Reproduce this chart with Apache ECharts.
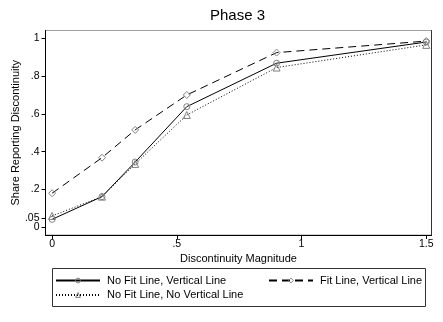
<!DOCTYPE html>
<html>
<head>
<meta charset="utf-8">
<script src="https://cdn.jsdelivr.net/npm/echarts@6/dist/echarts.min.js"></script>
<style>html,body{margin:0;padding:0;background:#fff}#c{width:443px;height:322px}</style>
</head>
<body>
<div id="c"></div>
<script>
var xVals = [0, 0.2, 0.333, 0.54, 0.9, 1.5];
var noFitVert = [0.042, 0.162, 0.345, 0.638, 0.868, 0.98];
var fitVert = [0.18, 0.368, 0.515, 0.70, 0.924, 0.985];
var noFitNoVert = [0.06, 0.162, 0.335, 0.594, 0.845, 0.965];
var xTicks = [0, 0.5, 1, 1.5];
var yTicks = [0, 0.2, 0.4, 0.6, 0.8, 1];
var yExtraTicks = [0.05];
var names = ['No Fit Line, Vertical Line', 'Fit Line, Vertical Line', 'No Fit Line, No Vertical Line'];

function fmt(v){ if (v === 0) return '0'; var s = String(+v.toFixed(3)); return s.replace(/^0\./, '.'); }
function pairs(ys){ return xVals.map(function(x,i){ return [x, ys[i]]; }); }

var FONT = 'Liberation Sans, Arial, sans-serif';
var YMIN = -0.041, YMAX = 1.041;
var chart = echarts.init(document.getElementById('c'), null, {renderer:'canvas'});
var mk = {color:'rgba(255,255,255,0)', borderColor:'#808080', borderWidth:1};
function legendCfg(name, left, top){
  return {data:[name], left:left, top:top, padding:0, itemWidth:44, itemHeight:6,
    itemStyle:{color:'rgba(255,255,255,0)', borderColor:'#808080', borderWidth:1},
    textStyle:{fontFamily:FONT, fontSize:11, color:'#000', padding:[0,0,0,2]}, selectedMode:false};
}
function yLab(vals){
  return {customValues:vals, formatter:fmt, margin:6, fontFamily:FONT, fontSize:10.5, color:'#000',
    hideOverlap:false, showMinLabel:true, showMaxLabel:true};
}
chart.setOption({
  animation:false,
  title:{text:'Phase 3', left:210, top:8, padding:0, textStyle:{fontFamily:FONT, fontSize:15, fontWeight:'normal', color:'#000'}},
  grid:{left:45.5, right:11.5, top:30.5, bottom:87, show:true, borderColor:'#a0a0a0', borderWidth:1},
  xAxis:{type:'value', min:-0.0265, max:1.521,
    name:'Discontinuity Magnitude', nameLocation:'middle', nameGap:18, nameMoveOverlap:false,
    nameTextStyle:{fontFamily:FONT, fontSize:11, color:'#000'},
    axisLine:{onZero:false, lineStyle:{color:'#000'}},
    axisTick:{length:4, customValues:xTicks, lineStyle:{color:'#000'}},
    axisLabel:{customValues:xTicks, formatter:fmt, margin:4, fontFamily:FONT, fontSize:10.5, color:'#000'},
    splitLine:{show:false}},
  yAxis:[{type:'value', min:YMIN, max:YMAX,
    name:'Share Reporting Discontinuity', nameLocation:'middle', nameGap:24, nameRotate:90, nameMoveOverlap:false,
    nameTextStyle:{fontFamily:FONT, fontSize:11, color:'#000'},
    axisLine:{show:true, onZero:false, lineStyle:{color:'#000'}},
    axisTick:{show:true, length:4, customValues:yTicks, lineStyle:{color:'#000'}},
    axisLabel:yLab(yTicks),
    splitLine:{show:false}},
    {type:'value', position:'right', min:YMIN, max:YMAX,
    axisLine:{show:true, onZero:false, lineStyle:{color:'#333'}}, axisTick:{show:false}, axisLabel:{show:false}, splitLine:{show:false}},
    {type:'value', position:'left', offset:0, min:YMIN, max:YMAX,
    axisLine:{show:false, onZero:false},
    axisTick:{show:true, length:4, customValues:yExtraTicks, lineStyle:{color:'#000'}},
    axisLabel:yLab(yExtraTicks), splitLine:{show:false}}],
  legend:[legendCfg(names[0], 55, 275), legendCfg(names[1], 268, 275), legendCfg(names[2], 55, 289.5)],
  graphic:[{type:'rect', shape:{x:52.5, y:268.5, width:373, height:38}, style:{fill:'none', stroke:'#333', lineWidth:1}, silent:true}],
  series:[
    {name:names[0], type:'line', data:pairs(noFitVert), symbol:'circle', symbolSize:6, itemStyle:mk,
     lineStyle:{color:'#000', width:1, type:'solid'}},
    {name:names[1], type:'line', data:pairs(fitVert), symbol:'diamond', symbolSize:7, itemStyle:mk,
     lineStyle:{color:'#000', width:1, type:[8,5]}},
    {name:names[2], type:'line', data:pairs(noFitNoVert), symbol:'triangle', symbolSize:7, itemStyle:mk,
     lineStyle:{color:'#000', width:1, type:[1,2]}}
  ]
});
</script>
</body>
</html>
